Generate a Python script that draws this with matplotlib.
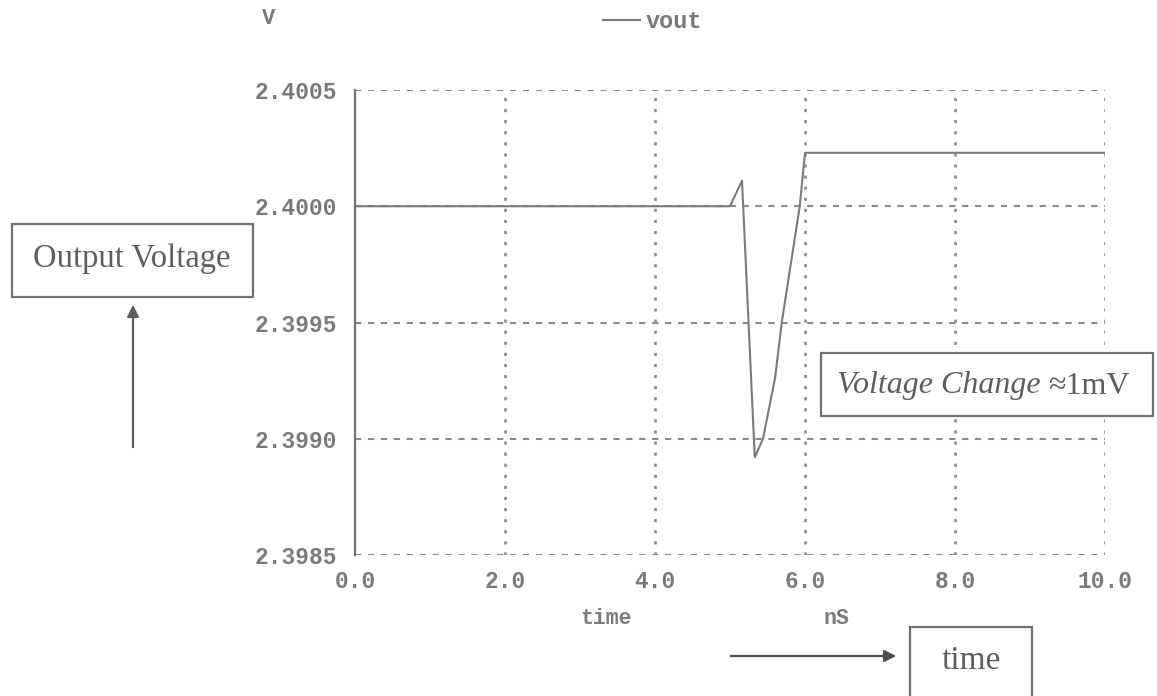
import matplotlib
matplotlib.use("Agg")
import matplotlib.pyplot as plt
from matplotlib.patches import Rectangle, FancyArrowPatch

# Transient response of the output node
time_ns = [0.0, 5.0, 5.16, 5.33, 5.44, 5.60, 5.69, 5.93, 6.0, 10.0]
vout = [2.4000, 2.4000, 2.40011, 2.39892, 2.3990, 2.39926, 2.3995, 2.4000, 2.40023, 2.40023]

x_ticks = [0.0, 2.0, 4.0, 6.0, 8.0, 10.0]
x_tick_labels = ["0.0", "2.0", "4.0", "6.0", "8.0", "10.0"]
y_ticks = [2.3985, 2.3990, 2.3995, 2.4000, 2.4005]
y_tick_labels = ["2.3985", "2.3990", "2.3995", "2.4000", "2.4005"]

W, H = 1157, 696
fig = plt.figure(figsize=(W / 100, H / 100), dpi=100)
fig.patch.set_facecolor("white")


def fx(x):
    return x / W


def fy(y):
    return 1 - y / H


grey = "#7a7a7a"
ink = "#5e5e5e"
grid_grey = "#8a8a8a"
mono = "Liberation Mono"
serif = "Liberation Serif"
mono_kw = dict(family=mono, weight="bold", color=grey)

ax = fig.add_axes([fx(355), fy(555), fx(1105) - fx(355), fy(90) - fy(555)])
ax.set_xlim(0, 10)
ax.set_ylim(2.3985, 2.4005)

# plot frame: solid left axis, dotted/dashed grid elsewhere
for side in ["top", "right", "bottom"]:
    ax.spines[side].set_visible(False)
ax.spines["left"].set_color("#727272")
ax.spines["left"].set_linewidth(1.6)

for yv in y_ticks:
    ax.axhline(yv, color=grid_grey, lw=1.5, dashes=(3, 3.2), zorder=1)
for xv in x_ticks[1:]:
    ax.axvline(xv, color=grid_grey, lw=1.9, dashes=(1.2, 3.0), zorder=1)

ax.plot(time_ns, vout, color="#7a7a7a", lw=1.5, zorder=3)

ax.set_xticks(x_ticks)
ax.set_xticklabels(x_tick_labels, fontsize=16.5, **mono_kw)
ax.set_yticks(y_ticks)
ax.set_yticklabels(y_tick_labels, fontsize=16.5, **mono_kw)
ax.tick_params(axis="x", length=0, pad=11)
ax.tick_params(axis="y", length=0, pad=13)

# axis captions
fig.text(fx(269), fy(18), "V", fontsize=16, ha="center", va="center", **mono_kw)
fig.text(fx(606), fy(619), "time", fontsize=15.5, ha="center", va="center", **mono_kw)
fig.text(fx(836), fy(619), "nS", fontsize=15.5, ha="center", va="center", **mono_kw)

# legend entry
fig.add_artist(plt.Line2D([fx(603), fx(640)], [fy(20), fy(20)], color=grey, lw=1.5))
fig.text(fx(646), fy(22), "vout", fontsize=17, ha="left", va="center", **mono_kw)

box_kw = dict(fill=False, edgecolor="#707070", lw=1.6, transform=fig.transFigure)

# "Output Voltage" call-out with upward arrow
fig.add_artist(Rectangle((fx(12), fy(297)), fx(253) - fx(12), fy(224) - fy(297), **box_kw))
fig.text(fx(132), fy(259), "Output Voltage", family=serif, fontsize=23.5, color=ink,
         ha="center", va="center")
fig.add_artist(FancyArrowPatch((fx(133), fy(450)), (fx(133), fy(302)), transform=fig.transFigure,
                               arrowstyle="-|>,head_length=7,head_width=3.5", color=ink, lw=1.6))

# "Voltage Change ≈ 1mV" call-out
fig.add_artist(Rectangle((fx(821), fy(416)), fx(1153) - fx(821), fy(353) - fy(416),
                         facecolor="white", edgecolor="#707070", lw=1.6, transform=fig.transFigure,
                         zorder=5))
fig.text(fx(837), fy(386), "Voltage Change", family=serif, style="italic", fontsize=23,
         color=ink, ha="left", va="center", zorder=6)
fig.text(fx(1130), fy(386), "\u22481mV", family=serif, fontsize=23, color=ink,
         ha="right", va="center", zorder=6)

# "time" call-out with rightward arrow
fig.add_artist(Rectangle((fx(910), fy(720)), fx(1032) - fx(910), fy(627) - fy(720), **box_kw))
fig.text(fx(971), fy(661), "time", family=serif, fontsize=24, color=ink,
         ha="center", va="center")
fig.add_artist(FancyArrowPatch((fx(728), fy(656)), (fx(899), fy(656)), transform=fig.transFigure,
                               arrowstyle="-|>,head_length=7,head_width=3.5", color="#505050", lw=1.6))

fig.savefig("out.png", dpi=100, facecolor="white")
